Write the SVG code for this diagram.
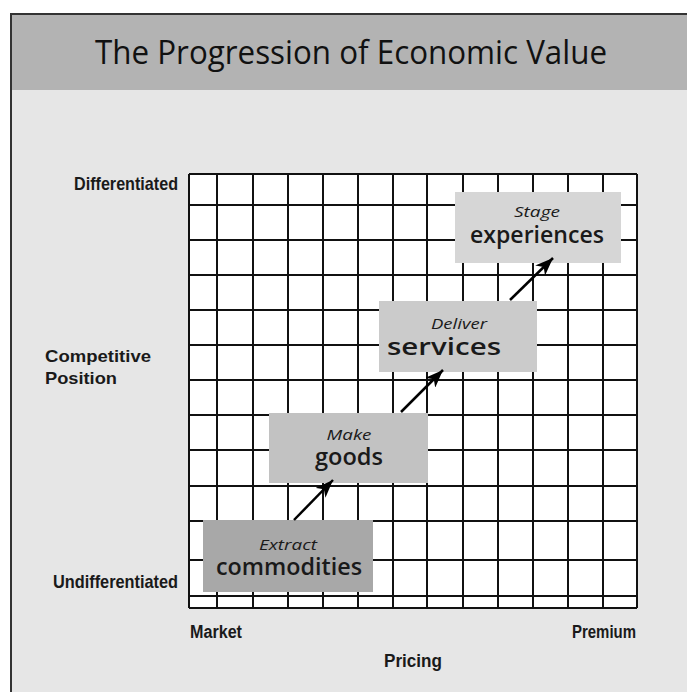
<svg xmlns="http://www.w3.org/2000/svg" width="687" height="692" viewBox="0 0 687 692">
  <style>
    .grid line { stroke: #111; stroke-width: 2; }
    .axis { font-family: "Liberation Sans", Arial, sans-serif; font-weight: bold; fill: #1a1a1a; }
    .it { font-family: "Open Sans", "Liberation Sans", sans-serif; font-style: italic; font-size: 15px; fill: #1a1a1a; text-anchor: middle; }
    .big { font-family: "Open Sans", "Liberation Sans", sans-serif; font-weight: 600; font-size: 23px; fill: #1a1a1a; text-anchor: middle; }
    .conn line { stroke: #000; stroke-width: 2.5; }
  </style>
  <defs>
    <marker id="ah" markerUnits="userSpaceOnUse" markerWidth="20" markerHeight="14" refX="18" refY="7" orient="auto">
      <path d="M0,0 L18,7 L0,14 L5,7 Z" fill="#000"/>
    </marker>
  </defs>

  <!-- background -->
  <rect x="0" y="0" width="687" height="692" fill="#ffffff"/>
  <rect x="10" y="13" width="677" height="679" fill="#e6e6e6"/>
  <rect x="10" y="13" width="677" height="77" fill="#b3b3b3"/>
  <path d="M11,692 V14 H687" fill="none" stroke="#333" stroke-width="2"/>

  <g id="title">
    <text x="351" y="64" font-family="Open Sans, Liberation Sans, sans-serif" font-size="32" fill="#111" text-anchor="middle" textLength="512" lengthAdjust="spacingAndGlyphs">The Progression of Economic Value</text>
  </g>

  <!-- grid -->
  <g id="grid" class="grid">
    <rect x="189" y="174" width="448" height="434" fill="#ffffff"/>
    <line x1="189" y1="174" x2="189" y2="608"/>
    <line x1="217" y1="174" x2="217" y2="608"/>
    <line x1="253" y1="174" x2="253" y2="608"/>
    <line x1="288" y1="174" x2="288" y2="608"/>
    <line x1="323" y1="174" x2="323" y2="608"/>
    <line x1="358" y1="174" x2="358" y2="608"/>
    <line x1="393" y1="174" x2="393" y2="608"/>
    <line x1="427" y1="174" x2="427" y2="608"/>
    <line x1="463" y1="174" x2="463" y2="608"/>
    <line x1="498" y1="174" x2="498" y2="608"/>
    <line x1="533" y1="174" x2="533" y2="608"/>
    <line x1="568" y1="174" x2="568" y2="608"/>
    <line x1="603" y1="174" x2="603" y2="608"/>
    <line x1="637" y1="174" x2="637" y2="608"/>
    <line x1="189" y1="174" x2="637" y2="174"/>
    <line x1="189" y1="205" x2="637" y2="205"/>
    <line x1="189" y1="240" x2="637" y2="240"/>
    <line x1="189" y1="275" x2="637" y2="275"/>
    <line x1="189" y1="310" x2="637" y2="310"/>
    <line x1="189" y1="345" x2="637" y2="345"/>
    <line x1="189" y1="380" x2="637" y2="380"/>
    <line x1="189" y1="415" x2="637" y2="415"/>
    <line x1="189" y1="450" x2="637" y2="450"/>
    <line x1="189" y1="486" x2="637" y2="486"/>
    <line x1="189" y1="521" x2="637" y2="521"/>
    <line x1="189" y1="560" x2="637" y2="560"/>
    <line x1="189" y1="596" x2="637" y2="596"/>
    <line x1="189" y1="608" x2="637" y2="608"/>
  </g>

  <!-- axis labels -->
  <g id="axis-labels">
    <text class="axis" x="178" y="190" font-size="19" text-anchor="end" textLength="104" lengthAdjust="spacingAndGlyphs">Differentiated</text>
    <text class="axis" x="178" y="588" font-size="19" text-anchor="end" textLength="125" lengthAdjust="spacingAndGlyphs">Undifferentiated</text>
    <text class="axis" x="45" y="362" font-size="17" textLength="106" lengthAdjust="spacingAndGlyphs">Competitive</text>
    <text class="axis" x="45" y="384" font-size="17" textLength="72" lengthAdjust="spacingAndGlyphs">Position</text>
    <text class="axis" x="190" y="638" font-size="18" textLength="52" lengthAdjust="spacingAndGlyphs">Market</text>
    <text class="axis" x="636" y="638" font-size="18" text-anchor="end" textLength="64" lengthAdjust="spacingAndGlyphs">Premium</text>
    <text class="axis" x="384" y="667" font-size="18" textLength="58" lengthAdjust="spacingAndGlyphs">Pricing</text>
  </g>

  <!-- nodes -->
  <g id="commodities">
    <rect x="203" y="520" width="170" height="72" fill="#a8a8a8"/>
    <text class="it" x="288" y="550" textLength="58" lengthAdjust="spacingAndGlyphs">Extract</text>
    <text class="big" x="289" y="575" textLength="146" lengthAdjust="spacingAndGlyphs">commodities</text>
  </g>
  <g id="goods">
    <rect x="269" y="413" width="159" height="70" fill="#c2c2c2"/>
    <text class="it" x="349" y="440" textLength="45" lengthAdjust="spacingAndGlyphs">Make</text>
    <text class="big" x="349" y="465" textLength="68" lengthAdjust="spacingAndGlyphs">goods</text>
  </g>
  <g id="services">
    <rect x="379" y="301" width="158" height="71" fill="#cbcbcb"/>
    <text class="it" x="459" y="329" textLength="56" lengthAdjust="spacingAndGlyphs">Deliver</text>
    <text class="big" x="444" y="355" textLength="114" lengthAdjust="spacingAndGlyphs">services</text>
  </g>
  <g id="experiences">
    <rect x="455" y="192" width="166" height="71" fill="#d6d6d6"/>
    <text class="it" x="537" y="217" textLength="46" lengthAdjust="spacingAndGlyphs">Stage</text>
    <text class="big" x="537" y="243" textLength="134" lengthAdjust="spacingAndGlyphs">experiences</text>
  </g>

  <!-- connectors -->
  <g id="connectors" class="conn">
    <line x1="294" y1="520" x2="333" y2="480" marker-end="url(#ah)"/>
    <line x1="401" y1="412" x2="443" y2="370" marker-end="url(#ah)"/>
    <line x1="510" y1="300" x2="553" y2="258" marker-end="url(#ah)"/>
  </g>
</svg>
